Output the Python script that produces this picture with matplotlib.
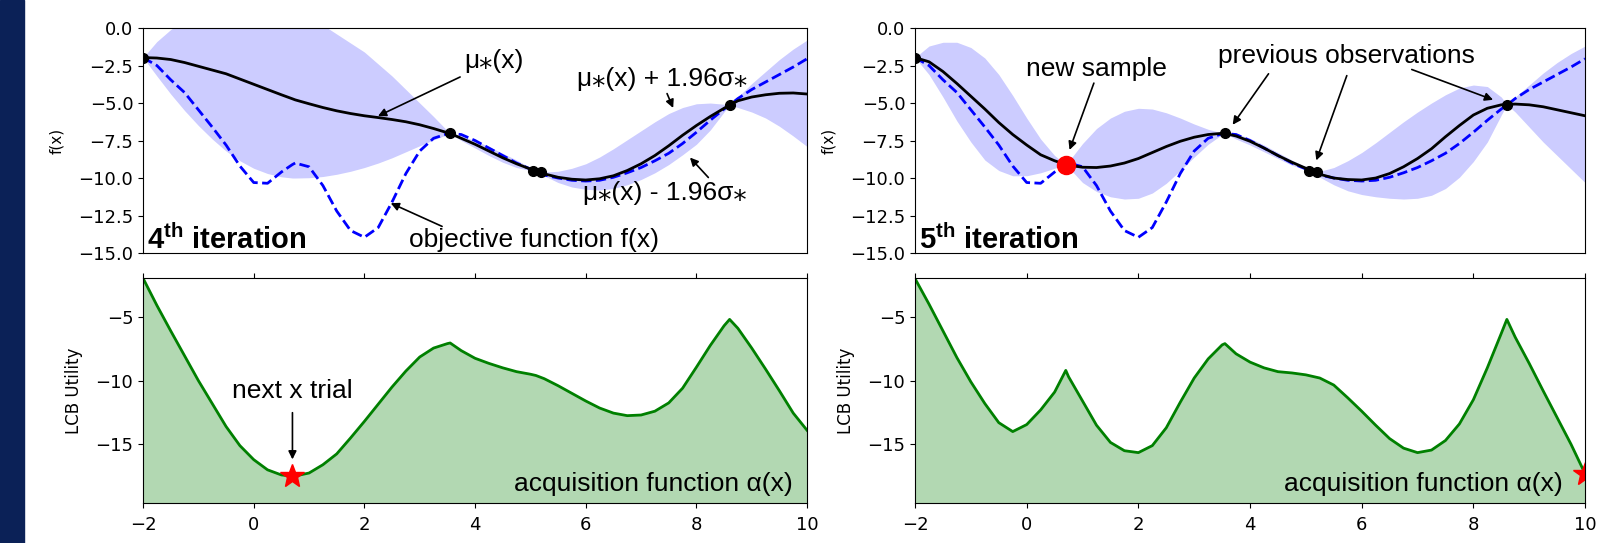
import matplotlib
matplotlib.use("Agg")
import matplotlib.pyplot as plt
from matplotlib.patches import Rectangle

# shared x grid (observation points included so the kinks sit on them)
x = [-2, -1.75, -1.5, -1.25, -1, -0.75, -0.5, -0.25, 0, 0.25, 0.5, 0.7, 0.75,
     1, 1.25, 1.5, 1.75, 2, 2.25, 2.5, 2.75, 3, 3.25, 3.5, 3.55, 3.75, 4,
     4.25, 4.5, 4.75, 5, 5.1, 5.25, 5.5, 5.75, 6, 6.25, 6.5, 6.75, 7, 7.25,
     7.5, 7.75, 8, 8.25, 8.5, 8.6, 8.75, 9, 9.25, 9.5, 9.75, 10]

# objective function f(x)
f_true = [-1.97, -2.5, -3.45, -4.3, -5.45, -6.6, -7.8, -9.2, -10.3, -10.35, -9.6, -9.1, -9.0,
          -9.25, -10.5, -12.2, -13.5, -13.95, -13.3, -11.6, -9.7, -8.2, -7.35, -7.05, -7.03, -7.1, -7.5,
          -8.0, -8.5, -9.0, -9.4, -9.58, -9.8, -10.0, -10.15, -10.2, -10.15, -9.95, -9.65, -9.3, -8.85,
          -8.35, -7.7, -6.95, -6.15, -5.4, -5.14, -4.7, -4.1, -3.6, -3.1, -2.6, -2.05]

# 4th iteration: posterior mean and 95% band
mu4 = [-1.97, -2.0, -2.1, -2.3, -2.55, -2.8, -3.05, -3.4, -3.75, -4.1, -4.45, -4.72, -4.79,
       -5.05, -5.3, -5.52, -5.7, -5.85, -5.97, -6.1, -6.25, -6.45, -6.7, -6.98, -7.03, -7.35, -7.75,
       -8.2, -8.65, -9.05, -9.4, -9.55, -9.72, -9.95, -10.08, -10.13, -10.05, -9.85, -9.5, -9.05, -8.5,
       -7.85, -7.15, -6.5, -5.9, -5.35, -5.14, -4.85, -4.6, -4.45, -4.35, -4.33, -4.4]
up4 = [-1.97, -0.9, -0.1, 0.5, 1.0, 1.3, 1.5, 1.6, 1.6, 1.5, 1.3, 1.1, 1.0,
       0.7, 0.2, -0.4, -1.0, -1.6, -2.4, -3.2, -4.1, -5.0, -5.9, -6.85, -7.03, -7.2, -7.5,
       -7.9, -8.35, -8.8, -9.3, -9.55, -9.6, -9.55, -9.35, -9.05, -8.6, -8.05, -7.45, -6.85, -6.25,
       -5.7, -5.3, -5.05, -5.0, -5.08, -5.14, -4.6, -3.7, -2.9, -2.1, -1.4, -0.8]
lo4 = [-1.97, -3.2, -4.4, -5.5, -6.5, -7.4, -8.2, -8.85, -9.35, -9.7, -9.92, -10.0, -10.0,
       -9.98, -9.9, -9.75, -9.55, -9.3, -9.0, -8.65, -8.25, -7.85, -7.45, -7.1, -7.03, -7.5, -8.0,
       -8.5, -8.95, -9.3, -9.5, -9.55, -9.85, -10.3, -10.6, -10.75, -10.8, -10.7, -10.45, -10.1, -9.65,
       -9.1, -8.45, -7.75, -6.8, -5.6, -5.14, -5.3, -5.6, -6.0, -6.55, -7.2, -7.9]

# 5th iteration
mu5 = [-1.97, -2.25, -2.9, -3.7, -4.55, -5.4, -6.3, -7.1, -7.8, -8.45, -8.85, -9.1, -9.15,
       -9.28, -9.3, -9.2, -9.0, -8.7, -8.3, -7.9, -7.55, -7.28, -7.1, -7.02, -7.03, -7.2, -7.55,
       -8.0, -8.5, -8.95, -9.35, -9.55, -9.75, -10.0, -10.1, -10.13, -10.0, -9.7, -9.25, -8.7, -8.05,
       -7.25, -6.5, -5.8, -5.35, -5.12, -5.1, -5.07, -5.12, -5.25, -5.45, -5.65, -5.85]
up5 = [-1.97, -1.2, -0.95, -0.95, -1.3, -2.0, -3.1, -4.5, -6.0, -7.4, -8.5, -9.1, -8.9,
       -7.7, -6.7, -6.0, -5.55, -5.35, -5.4, -5.65, -6.0, -6.4, -6.75, -7.0, -7.03, -7.05, -7.35,
       -7.8, -8.3, -8.8, -9.25, -9.55, -9.55, -9.3, -8.85, -8.3, -7.65, -6.95, -6.25, -5.6, -5.0,
       -4.45, -4.0, -3.8, -3.9, -4.6, -5.1, -4.6, -3.8, -3.0, -2.3, -1.7, -1.2]
lo5 = [-1.97, -3.1, -4.6, -6.2, -7.6, -8.8, -9.5, -9.85, -9.85, -9.65, -9.35, -9.1, -9.3,
       -10.3, -10.9, -11.25, -11.4, -11.35, -11.0, -10.35, -9.5, -8.6, -7.75, -7.1, -7.03, -7.4, -7.8,
       -8.25, -8.7, -9.15, -9.45, -9.55, -9.95, -10.45, -10.85, -11.1, -11.25, -11.35, -11.4, -11.35, -11.15,
       -10.7, -9.95, -8.9, -7.6, -5.8, -5.1, -5.6, -6.6, -7.6, -8.5, -9.4, -10.3]

# LCB acquisition
acq4 = [-1.97, -4.1, -6.1, -8.05, -10.0, -11.8, -13.6, -15.1, -16.2, -17.0, -17.4, -17.5, -17.48,
        -17.25, -16.6, -15.75, -14.5, -13.2, -11.85, -10.5, -9.25, -8.15, -7.45, -7.1, -7.05, -7.65, -8.25,
        -8.65, -9.0, -9.3, -9.5, -9.6, -9.85, -10.4, -11.0, -11.6, -12.15, -12.55, -12.75, -12.7, -12.4,
        -11.75, -10.6, -8.95, -7.25, -5.7, -5.2, -5.9, -7.45, -9.1, -10.8, -12.55, -13.9]
acq5 = [-2.0, -4.0, -6.1, -8.2, -10.1, -11.8, -13.3, -14.0, -13.45, -12.3, -10.9, -9.2, -9.7,
        -11.6, -13.5, -14.85, -15.5, -15.65, -15.1, -13.7, -11.7, -9.8, -8.3, -7.2, -7.1, -7.9, -8.55,
        -9.0, -9.3, -9.4, -9.55, -9.65, -9.8, -10.35, -11.35, -12.4, -13.5, -14.55, -15.3, -15.65, -15.45,
        -14.7, -13.4, -11.5, -9.0, -6.3, -5.2, -6.6, -8.65, -10.8, -12.9, -15.0, -17.3]

obs4_x = [-2, 3.55, 5.05, 5.2, 8.6]
obs4_y = [-1.97, -7.03, -9.52, -9.62, -5.14]
new_x, new_y = 0.7, -9.1
next4_x, next4_y = 0.7, -17.5
next5_x, next5_y = 10, -17.3

top_yticks = [0.0, -2.5, -5.0, -7.5, -10.0, -12.5, -15.0]
bot_yticks = [-5, -10, -15]
xticks = [-2, 0, 2, 4, 6, 8, 10]

ann_font = ['Liberation Sans', 'DejaVu Sans']
plt.rcParams['mathtext.fontset'] = 'custom'
plt.rcParams['mathtext.bf'] = 'Liberation Sans:bold'

fig = plt.figure(figsize=(16.09, 5.43), dpi=100)
fig.patches.append(Rectangle((0, 0), 24 / 1609, 1, transform=fig.transFigure, color='#0b2157', zorder=0))

ax_tl = fig.add_axes([0.0889, 0.534, 0.4127, 0.4144])
ax_bl = fig.add_axes([0.0889, 0.0737, 0.4127, 0.4144])
ax_tr = fig.add_axes([0.5687, 0.534, 0.4164, 0.4144])
ax_br = fig.add_axes([0.5687, 0.0737, 0.4164, 0.4144])

ann = dict(fontsize=19, family=ann_font)
arrow = dict(arrowstyle='-|>', color='black', lw=1.2, mutation_scale=12)


def draw_top(ax, mu, up, lo):
    ax.fill_between(x, lo, up, color='blue', alpha=0.2, linewidth=0)
    ax.plot(x, f_true, 'b--', lw=2)
    ax.plot(x, mu, 'k-', lw=2)
    ax.set_xlim(-2, 10)
    ax.set_ylim(-15, 0)
    ax.set_xticks([])
    ax.set_yticks(top_yticks)
    ax.set_yticklabels([f'{v:.1f}'.replace('-', '\u2212') for v in top_yticks])
    ax.set_ylabel('f(x)', fontsize=11, labelpad=10)
    ax.tick_params(labelsize=13)


def draw_bot(ax, acq):
    ax.fill_between(x, acq, -20, color='green', alpha=0.3, linewidth=0)
    ax.plot(x, acq, color='green', lw=2)
    ax.set_xlim(-2, 10)
    ax.set_ylim(-19.6, -1.95)
    ax.set_xticks(xticks)
    ax.set_yticks(bot_yticks)
    ax.tick_params(top=True, labelsize=13)
    ax.tick_params(axis='x', pad=6)
    ax.set_ylabel('LCB Utility', fontsize=12, labelpad=9)


# 4th iteration
draw_top(ax_tl, mu4, up4, lo4)
ax_tl.plot(obs4_x, obs4_y, 'ko', ms=7)
ax_tl.text(-1.93, -14.75, r'4$^{\mathbf{th}}$ iteration', fontsize=21, fontweight='bold',
           family='Liberation Sans')
ax_tl.annotate('μ\u204e(x)', xy=(2.2, -5.95), xytext=(3.8, -2.2), va='center', arrowprops=arrow, **ann)
ax_tl.text(5.85, -3.4, 'μ\u204e(x) + 1.96σ\u204e', va='center', **ann)
ax_tl.annotate('', xy=(7.6, -5.5), xytext=(7.45, -4.2), arrowprops=arrow)
ax_tl.text(5.95, -11.0, 'μ\u204e(x) - 1.96σ\u204e', va='center', **ann)
ax_tl.annotate('', xy=(7.85, -8.5), xytext=(8.25, -10.1), arrowprops=arrow)
ax_tl.text(2.8, -14.15, 'objective function f(x)', va='center', **ann)
ax_tl.annotate('', xy=(2.43, -11.6), xytext=(3.45, -13.3), arrowprops=arrow)

draw_bot(ax_bl, acq4)
ax_bl.plot(next4_x, next4_y, 'r*', ms=18)
ax_bl.text(0.7, -10.8, 'next x trial', ha='center', va='center', **ann)
ax_bl.annotate('', xy=(next4_x, -16.4), xytext=(0.7, -12.3), arrowprops=arrow)
ax_bl.text(9.75, -18.1, 'acquisition function α(x)', ha='right', va='center', **ann)

# 5th iteration
draw_top(ax_tr, mu5, up5, lo5)
ax_tr.plot(obs4_x, obs4_y, 'ko', ms=7)
ax_tr.plot(new_x, new_y, 'o', color='red', ms=13)
ax_tr.text(-1.93, -14.75, r'5$^{\mathbf{th}}$ iteration', fontsize=21, fontweight='bold',
           family='Liberation Sans')
ax_tr.text(1.25, -2.75, 'new sample', ha='center', va='center', **ann)
ax_tr.annotate('', xy=(0.75, -8.3), xytext=(1.22, -3.5), arrowprops=arrow)
ax_tr.text(5.72, -1.85, 'previous observations', ha='center', va='center', **ann)
ax_tr.annotate('', xy=(3.66, -6.6), xytext=(4.36, -2.9), arrowprops=arrow)
ax_tr.annotate('', xy=(5.17, -9.0), xytext=(5.75, -3.0), arrowprops=arrow)
ax_tr.annotate('', xy=(8.4, -4.85), xytext=(6.85, -2.7), arrowprops=arrow)

draw_bot(ax_br, acq5)
ax_br.plot(next5_x, next5_y, 'r*', ms=18, clip_on=True)
ax_br.text(9.6, -18.1, 'acquisition function α(x)', ha='right', va='center', **ann)

fig.savefig('out.png', dpi=100)
